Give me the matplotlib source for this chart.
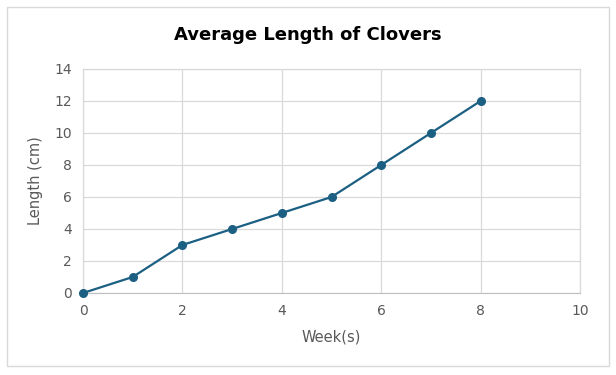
import matplotlib.pyplot as plt
from matplotlib.patches import Rectangle

# Data
weeks = [0, 1, 2, 3, 4, 5, 6, 7, 8]
length_cm = [0, 1, 3, 4, 5, 6, 8, 10, 12]
x_ticks = [0, 2, 4, 6, 8, 10]
y_ticks = [0, 2, 4, 6, 8, 10, 12, 14]

line_color = '#1b5f83'
grid_color = '#d9d9d9'
text_color = '#595959'

fig = plt.figure(figsize=(6.16, 3.75), dpi=100)
fig.patches.append(Rectangle((7 / 616, 1 - 366 / 375), 602 / 616, 359 / 375,
                             transform=fig.transFigure, fill=False,
                             edgecolor='#d9d9d9', linewidth=1))

ax = fig.add_axes([83 / 616, 1 - 293 / 375, 497 / 616, 224 / 375])
ax.plot(weeks, length_cm, color=line_color, linewidth=1.6, marker='o',
        markersize=5.5, clip_on=False, zorder=3)

ax.set_xlim(0, 10)
ax.set_ylim(0, 14)
ax.set_xticks(x_ticks)
ax.set_yticks(y_ticks)
ax.grid(True, color=grid_color, linewidth=0.9)
ax.set_axisbelow(True)
for side in ['top', 'right', 'left']:
    ax.spines[side].set_color(grid_color)
    ax.spines[side].set_linewidth(0.9)
ax.spines['bottom'].set_color('#bfbfbf')
ax.tick_params(length=0, labelsize=10, colors=text_color, pad=8)

ax.set_xlabel('Week(s)', fontsize=10.5, color=text_color, labelpad=8)
ax.set_ylabel('Length (cm)', fontsize=10.5, color=text_color, labelpad=8)

fig.text(0.5, 1 - 35 / 375, 'Average Length of Clovers', ha='center', va='center',
         fontsize=13, fontweight='bold', color='black')

fig.savefig('out.png', dpi=100)
